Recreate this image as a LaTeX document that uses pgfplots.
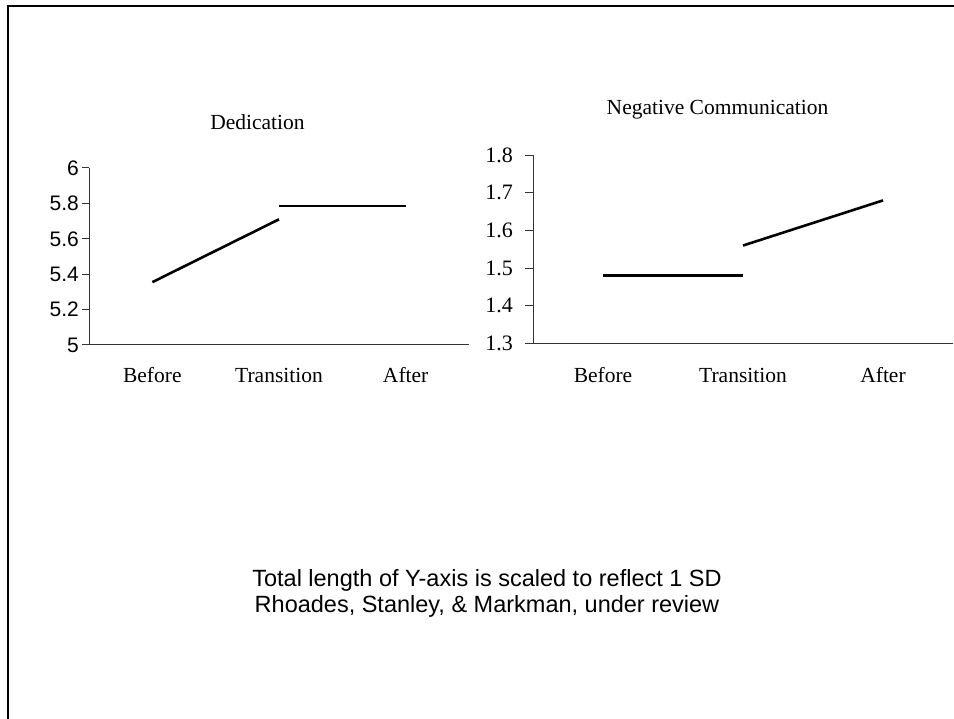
\documentclass[border=0pt]{standalone}
\usepackage{fontspec}
\setmainfont{Liberation Serif}
\newfontfamily\arial{Liberation Sans}
\usepackage{pgfplots}
\pgfplotsset{compat=1.18}
\begin{document}
\begin{tikzpicture}[x=1pt,y=1pt]
\useasboundingbox (0,0) rectangle (954,719);
\fill[white] (0,0) rectangle (954,719);
\draw[line width=1.8pt] (6.6,713.2) -- (954,713.2);
\draw[line width=2.4pt] (7.8,714.1) -- (7.8,0);
\begin{axis}[at={(89pt,374pt)}, anchor=south west, scale only axis,
  width=380pt, height=177pt,
  xmin=-0.5, xmax=2.5, ymin=5, ymax=6,
  axis x line*=bottom, axis y line*=left,
  axis line style={black!80, line width=1pt, -},
  xtick={0,1,2}, xticklabels={Before,Transition,After},
  xtick style={draw=none},
  ytick={5,5.2,5.4,5.6,5.8,6}, yticklabels={5,5.2,5.4,5.6,5.8,6},
  tick align=outside, major tick length=7pt,
  ytick style={black!80, line width=1pt},
  yticklabel style={font=\arial\fontsize{21}{25}\selectfont, inner sep=0pt, xshift=-3pt},
  xticklabel style={font=\fontsize{21.5}{25}\selectfont, inner sep=0pt, anchor=base, yshift=-31pt},
  clip=false]
\addplot[black, line width=2.6pt] coordinates {(0,5.355) (1,5.71)};
\addplot[black, line width=2.6pt] coordinates {(1,5.785) (2,5.785)};
\end{axis}
\begin{axis}[at={(533pt,375.7pt)}, anchor=south west, scale only axis,
  width=420pt, height=188pt,
  xmin=-0.5, xmax=2.5, ymin=1.3, ymax=1.8,
  axis x line*=bottom, axis y line*=left,
  axis line style={black!80, line width=1pt, -},
  xtick={0,1,2}, xticklabels={Before,Transition,After},
  xtick style={draw=none},
  ytick={1.3,1.4,1.5,1.6,1.7,1.8}, yticklabels={1.3,1.4,1.5,1.6,1.7,1.8},
  tick align=outside, major tick length=8pt,
  ytick style={black!80, line width=1pt},
  yticklabel style={font=\fontsize{22}{26}\selectfont, inner sep=0pt, xshift=-12pt},
  xticklabel style={font=\fontsize{21.5}{25}\selectfont, inner sep=0pt, anchor=base, yshift=-31pt},
  clip=false]
\addplot[black, line width=2.6pt] coordinates {(0,1.48) (1,1.48)};
\addplot[black, line width=2.6pt] coordinates {(1,1.56) (2,1.68)};
\end{axis}
\node[anchor=base, font=\fontsize{21.5}{25}\selectfont, inner sep=0pt] at (257.5,589.7) {Dedication};
\node[anchor=base, font=\fontsize{21.5}{25}\selectfont, inner sep=0pt] at (717.5,604) {Negative Communication};
\node[anchor=base, font=\arial\fontsize{23.5}{28}\selectfont, inner sep=0pt] at (487,132) {Total length of Y-axis is scaled to reflect 1 SD};
\node[anchor=base, font=\arial\fontsize{23.5}{28}\selectfont, inner sep=0pt] at (487,106) {Rhoades, Stanley, \& Markman, under review};
\end{tikzpicture}
\end{document}
